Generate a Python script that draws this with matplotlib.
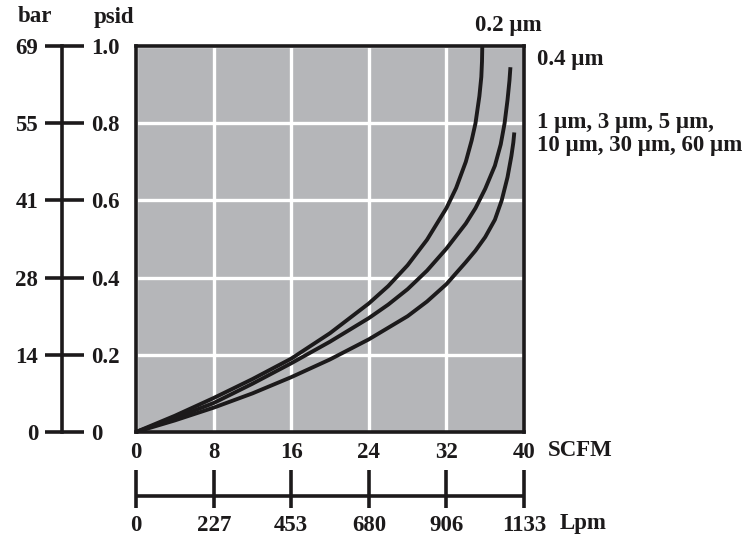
import matplotlib
matplotlib.use('Agg')
import matplotlib.pyplot as plt

plt.rcParams['font.family'] = ['Liberation Serif', 'DejaVu Serif']
plt.rcParams['font.weight'] = 'bold'
plt.rcParams['font.size'] = 16.5

# data
scfm_ticks = [0, 8, 16, 24, 32, 40]
psid_ticks = [0, 0.2, 0.4, 0.6, 0.8, 1.0]
psid_labels = ['0', '0.2', '0.4', '0.6', '0.8', '1.0']
bar_labels = ['0', '14', '28', '41', '55', '69']
lpm_ticks = [0, 227, 453, 680, 906, 1133]
lpm_per_scfm = 28.3168

# 0.2 um
flow_02 = [0, 4, 8, 12, 16, 20, 24, 26, 28, 30, 32, 33, 34, 34.6, 35.0, 35.4, 35.6, 35.67, 35.7]
dp_02 = [0, 0.042, 0.088, 0.137, 0.19, 0.256, 0.333, 0.378, 0.432, 0.498, 0.58,
         0.632, 0.70, 0.755, 0.80, 0.87, 0.92, 0.96, 1.0]
# 0.4 um
flow_04 = [0, 4, 8, 12, 16, 20, 24, 26, 28, 30, 32, 34, 35, 36, 37, 37.6, 38.0, 38.3, 38.5, 38.6]
dp_04 = [0, 0.036, 0.075, 0.125, 0.178, 0.234, 0.295, 0.33, 0.37, 0.418, 0.475,
         0.54, 0.58, 0.63, 0.69, 0.745, 0.80, 0.86, 0.91, 0.945]
# 1, 3, 5, 10, 30, 60 um
flow_1 = [0, 4, 8, 12, 16, 20, 24, 28, 30, 32, 34, 35, 36, 37, 37.7, 38.3, 38.7, 38.9, 39.0]
dp_1 = [0, 0.03, 0.063, 0.10, 0.142, 0.188, 0.24, 0.30, 0.338, 0.383, 0.44,
        0.47, 0.505, 0.55, 0.60, 0.66, 0.715, 0.75, 0.776]

ink = '#1c1a1b'
W, H = 751, 535

fig = plt.figure(figsize=(W / 100, H / 100), dpi=100)

# main plot
ax = fig.add_axes([136 / W, (H - 432) / H, 388 / W, 386 / H])
ax.set_facecolor('#b5b6b9')
ax.set_xlim(0, 40)
ax.set_ylim(0, 1)
ax.set_xticks(scfm_ticks)
ax.set_yticks(psid_ticks)
ax.set_yticklabels([])
ax.set_axisbelow(True)
ax.grid(True, color='white', lw=2.4)
ax.tick_params(axis='both', length=0, colors=ink)
ax.tick_params(axis='x', pad=7)
for s in ax.spines.values():
    s.set_linewidth(2.6)
    s.set_color(ink)

for fl, dp in [(flow_02, dp_02), (flow_04, dp_04), (flow_1, dp_1)]:
    ax.plot(fl, dp, color=ink, lw=2.8, solid_capstyle='butt',
            solid_joinstyle='round', clip_on=False, zorder=3)

fig.text(548 / W, 1 - 450 / H, 'SCFM', ha='left', va='center', color=ink)

# bar / psid scale on the left
ax_bar = fig.add_axes([45 / W, (H - 432) / H, 39 / W, 386 / H])
ax_bar.set_xlim(0, 1)
ax_bar.set_ylim(0, 1)
ax_bar.axvline((62 - 45) / 39, color=ink, lw=2.6, clip_on=False)
ax_bar.hlines(psid_ticks, 0, 1, color=ink, lw=2.6, clip_on=False)
ax_bar.set_xticks([])
ax_bar.set_yticks(psid_ticks, labels=bar_labels)
ax_bar.tick_params(axis='y', length=0, pad=5, colors=ink)
for s in ax_bar.spines.values():
    s.set_visible(False)

ax_psid = ax_bar.twinx()
ax_psid.set_ylim(0, 1)
ax_psid.set_yticks(psid_ticks, labels=psid_labels)
ax_psid.tick_params(axis='y', length=0, pad=5, colors=ink)
for s in ax_psid.spines.values():
    s.set_visible(False)

fig.text(35 / W, 1 - 17 / H, 'bar', ha='center', va='center', color=ink)
fig.text(114 / W, 1 - 17 / H, 'psid', ha='center', va='center', color=ink)

# Lpm scale below
ax_lpm = fig.add_axes([136 / W, (H - 508) / H, 388 / W, 38 / H])
ax_lpm.set_xlim(0, 40 * lpm_per_scfm)
ax_lpm.set_ylim(0, 1)
ax_lpm.axhline((508 - 496) / 38, color=ink, lw=2.6)
ax_lpm.vlines(lpm_ticks, 0, 1, color=ink, lw=2.6, clip_on=False)
ax_lpm.set_yticks([])
ax_lpm.set_xticks(lpm_ticks, labels=[str(v) for v in lpm_ticks])
ax_lpm.tick_params(axis='x', length=0, pad=5, colors=ink)
ax_lpm.patch.set_visible(False)
for s in ax_lpm.spines.values():
    s.set_visible(False)

fig.text(560 / W, 1 - 523 / H, 'Lpm', ha='left', va='center', color=ink)

# curve labels
fig.text(508 / W, 1 - 25 / H, '0.2 \u00b5m', ha='center', va='center', color=ink)
fig.text(537 / W, 1 - 60 / H, '0.4 \u00b5m', ha='left', va='center', color=ink)
fig.text(537 / W, 1 - 134 / H, '1 \u00b5m, 3 \u00b5m, 5 \u00b5m,\n10 \u00b5m, 30 \u00b5m, 60 \u00b5m',
         ha='left', va='center', color=ink, linespacing=1.15)

fig.savefig('out.png', dpi=100)
